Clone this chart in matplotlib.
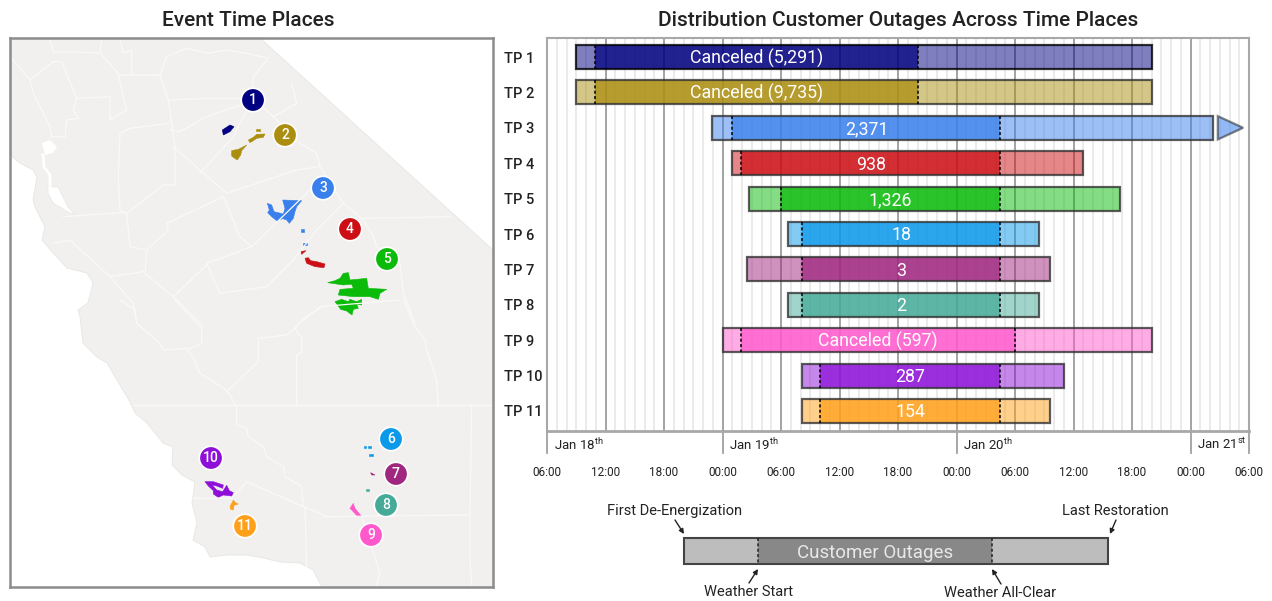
import matplotlib
matplotlib.use("Agg")
import matplotlib.pyplot as plt
from matplotlib.patches import Polygon

plt.rcParams['font.family'] = ['Roboto', 'DejaVu Sans']
plt.rcParams['mathtext.fontset'] = 'custom'
plt.rcParams['mathtext.rm'] = 'Roboto'

W, H = 1272, 601

# gantt data, hours after Jan 18th 00:00
tp_names = ['TP 1', 'TP 2', 'TP 3', 'TP 4', 'TP 5', 'TP 6', 'TP 7', 'TP 8', 'TP 9', 'TP 10', 'TP 11']
first_off = [9.0, 9.0, 22.9, 25.0, 26.7, 30.7, 26.5, 30.7, 24.0, 32.2, 32.2]
wx_start = [10.9, 10.9, 25.0, 25.9, 30.0, 32.2, 32.2, 32.2, 25.9, 34.0, 34.0]
wx_clear = [44.1, 44.0, 52.5, 52.5, 52.5, 52.5, 52.5, 52.5, 54.0, 52.5, 52.5]
last_rest = [68.0, 68.0, 74.3, 61.0, 64.8, 56.5, 57.6, 56.5, 68.0, 59.0, 57.6]
outage_labels = ['Canceled (5,291)', 'Canceled (9,735)', '2,371', '938', '1,326', '18', '3', '2',
                 'Canceled (597)', '287', '154']
tp_colors = ['#000080', '#ab8e10', '#3a80ec', '#cc0f14', '#0abb0a', '#0b99ea', '#a0267f', '#45ab98',
             '#ff58cc', '#8e10d8', '#ffa01a']

day_hours = [6, 24, 48, 72, 78]
day_labels = ['Jan 18$^{\\mathrm{th}}$', 'Jan 19$^{\\mathrm{th}}$', 'Jan 20$^{\\mathrm{th}}$', 'Jan 21$^{\\mathrm{st}}$']
hour_ticks = list(range(6, 79, 6))
hour_labels = ['06:00', '12:00', '18:00', '00:00', '06:00', '12:00', '18:00', '00:00', '06:00', '12:00',
               '18:00', '00:00', '06:00']
arrow_base, arrow_tip = 74.8, 77.4

# map data, traced in image pixels
land = [(10, 38), (260, 38), (493, 250), (493, 587), (322, 587), (313, 570), (300, 563), (280, 562), (263, 558),
        (247, 555), (227, 555), (210, 557), (205, 547), (193, 540), (197, 523), (192, 503), (195, 482), (182, 475),
        (172, 465), (173, 447), (163, 443), (147, 423), (135, 413), (130, 402), (117, 380), (107, 363), (97, 357),
        (83, 343), (80, 317), (78, 310), (88, 303), (93, 283), (87, 273), (67, 268), (53, 253), (42, 240), (45, 227),
        (35, 207), (33, 200), (37, 177), (33, 170), (20, 163), (10, 155)]
bay_upper = [(42, 143), (50, 140), (57, 147), (53, 153), (45, 155)]
bay_lower = [(48, 187), (58, 187), (68, 207), (75, 215), (68, 212), (53, 203), (48, 193)]
bay_strait = [(43, 155), (44, 167), (50, 175), (50, 187)]

north_lines = [
    [(150, 30), (160, 65), (300, 68), (305, 30)],
    [(30, 80), (90, 150), (160, 95), (185, 95), (230, 205), (220, 240), (235, 265), (200, 270), (195, 320), (155, 320)],
    [(90, 150), (100, 190), (150, 290), (155, 320)],
    [(230, 205), (330, 200), (330, 270), (380, 240), (355, 135)],
    [(300, 68), (350, 125), (355, 135), (480, 135), (500, 80), (560, 55), (625, 70), (680, 60), (740, 70), (805, 85),
     (760, 140), (755, 200), (820, 260), (890, 220), (875, 160)],
    [(360, 30), (370, 70), (395, 60), (395, 130)],
    [(820, 260), (900, 340), (950, 370), (960, 410), (1030, 520), (1090, 570), (1120, 620), (1130, 650), (1200, 700),
     (1210, 790), (1245, 880)],
    [(480, 135), (505, 210), (525, 350), (525, 465), (490, 465), (380, 550), (360, 540), (355, 440), (360, 310),
     (390, 295), (505, 280)],
    [(505, 210), (620, 205), (755, 205)],
    [(520, 350), (680, 490), (890, 420), (960, 410)],
    [(600, 430), (700, 320), (755, 210)],
    [(510, 300), (540, 305), (620, 260), (750, 215)],
    [(670, 500), (720, 620), (755, 650), (940, 470)],
    [(755, 650), (620, 700), (660, 790), (800, 770), (880, 690), (950, 600), (1030, 520)],
    [(670, 500), (500, 580), (505, 600), (440, 660), (435, 730), (520, 800), (620, 705)],
    [(380, 550), (390, 650), (440, 660)],
    [(190, 560), (370, 548)],
    [(160, 640), (210, 630), (330, 740), (430, 725)],
    [(330, 740), (400, 820), (410, 880)],
    [(1090, 565), (1350, 560)],
    [(520, 800), (610, 890)],
    [(885, 890), (960, 830), (1200, 810)],
]
south_lines = [
    [(360, 0), (405, 30), (410, 70), (480, 130), (490, 150), (560, 145), (580, 175), (600, 220), (680, 270), (710, 320)],
    [(525, 0), (605, 85), (605, 130), (560, 150)],
    [(960, 25), (910, 55), (885, 85), (860, 105), (775, 115), (775, 185), (680, 275)],
    [(885, 85), (905, 115), (905, 155), (890, 165), (890, 320)],
    [(1210, 0), (1245, 80), (1275, 120), (1280, 150), (1310, 240), (1315, 320)],
    [(400, 315), (1475, 315)],
    [(710, 320), (710, 375), (740, 385), (745, 410), (790, 440), (800, 470), (850, 500), (855, 530), (905, 560), (910, 620),
     (740, 545), (695, 595), (580, 595)],
    [(910, 620), (960, 640), (975, 650), (1410, 645), (1415, 320)],
    [(1410, 645), (1410, 780), (1415, 855)],
    [(915, 620), (920, 800)],
    [(1085, 650), (1140, 820), (1130, 855)],
]

# outage areas by time place: (index, outline)
north_areas = [
    (0, [(667, 300), (690, 285), (702, 290), (690, 305), (670, 315)]),
    (1, [(695, 362), (715, 358), (740, 345), (725, 362), (722, 375), (712, 390), (700, 382), (695, 378)]),
    (1, [(745, 330), (760, 322), (770, 313), (795, 312), (790, 322), (770, 325), (760, 332), (750, 338)]),
    (1, [(768, 298), (780, 298), (780, 303), (768, 303)]),
    (2, [(848, 510), (905, 512), (890, 530), (885, 545), (880, 565), (868, 580), (860, 570), (848, 566), (830, 572),
         (815, 560), (803, 548), (808, 540), (802, 520), (815, 525), (822, 545), (850, 552), (855, 535)]),
    (2, [(903, 598), (911, 598), (911, 606), (903, 606)]),
    (2, [(910, 638), (922, 638), (922, 645), (910, 645)]),
    (3, [(915, 685), (925, 683), (932, 692), (950, 695), (975, 702), (972, 713), (945, 710), (920, 700)]),
    (3, [(903, 665), (918, 662), (905, 673)]),
    (4, [(983, 758), (1005, 752), (1020, 745), (1030, 730), (1045, 728), (1050, 750), (1060, 762), (1030, 765)]),
    (4, [(1050, 750), (1100, 745), (1105, 775), (1160, 778), (1140, 790), (1135, 808), (1110, 800), (1060, 800),
         (1015, 795), (1020, 778), (1060, 775)]),
    (4, [(1005, 815), (1025, 808), (1045, 815), (1050, 808), (1070, 815), (1085, 808), (1085, 825), (1070, 822),
         (1075, 835), (1060, 838), (1056, 855), (1040, 843), (1022, 838)]),
]
south_areas = [
    (5, [(1093, 438), (1099, 438), (1099, 443), (1093, 443)]),
    (5, [(1104, 437), (1112, 437), (1112, 443), (1104, 443)]),
    (5, [(1108, 461), (1118, 461), (1118, 468), (1108, 468)]),
    (6, [(1112, 518), (1125, 525), (1115, 525)]),
    (7, [(1098, 566), (1108, 566), (1108, 574), (1098, 574)]),
    (8, [(1050, 625), (1060, 610), (1065, 625), (1085, 650), (1072, 648), (1055, 630)]),
    (9, [(615, 545), (640, 545), (670, 555), (668, 565), (650, 558), (636, 555), (650, 570), (668, 575), (680, 556),
         (688, 572), (700, 578), (695, 588), (670, 585), (655, 592), (640, 582), (640, 572), (625, 558)]),
    (10, [(690, 620), (700, 600), (706, 608), (715, 612), (702, 616), (700, 630), (692, 628)]),
]
badge_x = [253, 285, 323, 350, 387, 391, 396, 386, 371, 211, 245]
badge_y = [100, 135, 188, 229, 259, 439, 474, 505, 535, 458, 526]

# key below the chart, in image pixels
key_x = [684, 758, 992, 1108]
key_top, key_bottom = 538, 564
key_notes = ['First De-Energization', 'Last Restoration', 'Weather Start', 'Weather All-Clear']
note_text_xy = [(675, 511), (1115, 511), (748, 592), (1000, 593)]
note_from = [(675, 520), (1116, 520), (749, 583), (1001, 584)]
note_to = [(684, 534), (1110, 534), (758, 569), (992, 569)]


def north(pts):
    return [(x / 3, y / 3 + 30) for x, y in pts]


def south(pts):
    return [(x / 3, y / 3 + 300) for x, y in pts]


fig = plt.figure(figsize=(W / 100, H / 100), dpi=100)

# ---------- map
m = fig.add_axes([10 / W, 1 - 587 / H, 483 / W, 549 / H])
m.set_xlim(10, 493)
m.set_ylim(587, 38)
m.set_xticks([])
m.set_yticks([])
for s in m.spines.values():
    s.set_color('#8c8c8c')
    s.set_linewidth(1.8)

m.add_patch(Polygon(land, closed=True, fc='#f1f0ee', ec='#e6e6e4', lw=0.6))
m.add_patch(Polygon(bay_upper, closed=True, fc='white', ec='none'))
m.add_patch(Polygon(bay_lower, closed=True, fc='white', ec='#e6e6e4', lw=0.5))
m.plot(*zip(*bay_strait), color='white', lw=2)
for line in north_lines:
    m.plot(*zip(*north(line)), color='#f9f9f8', lw=0.9)
for line in south_lines:
    m.plot(*zip(*south(line)), color='#f9f9f8', lw=0.9)
for i, pts in north_areas:
    m.add_patch(Polygon(north(pts), closed=True, fc=tp_colors[i], ec=tp_colors[i], lw=0.4))
for i, pts in south_areas:
    m.add_patch(Polygon(south(pts), closed=True, fc=tp_colors[i], ec=tp_colors[i], lw=0.4))
m.scatter(badge_x, badge_y, s=285, c=tp_colors, edgecolors='white', linewidths=1.2, zorder=5)
for i in range(len(badge_x)):
    m.text(badge_x[i], badge_y[i], str(i + 1), color='white', ha='center', va='center', fontsize=10,
           fontweight='medium', zorder=6)

# ---------- gantt
ax = fig.add_axes([547 / W, 1 - 431 / H, 702 / W, 393 / H])
ax.set_xlim(day_hours[0], day_hours[-1])
ax.set_ylim(10.565, -0.537)
ax.set_axisbelow(True)
ax.set_xticks(hour_ticks)
ax.set_xticklabels(hour_labels)
ax.set_xticks(range(6, 79), minor=True)
ax.grid(which='minor', axis='x', color='#e6e6e6', lw=1.1)
ax.grid(which='major', axis='x', color='#8a8a8a', lw=1.1)
ax.tick_params(axis='x', which='both', length=0)
ax.tick_params(axis='x', which='major', labelsize=8.5, pad=25, labelcolor='#222222')
ax.set_yticks(range(len(tp_names)))
ax.set_yticklabels(tp_names, ha='left', fontsize=10.5, color='#222222', fontweight='medium')
ax.tick_params(axis='y', length=0, pad=31)
for s in ax.spines.values():
    s.set_color('#a8a8a8')
    s.set_linewidth(1.5)
ax.spines['bottom'].set_linewidth(2)

for i in range(len(tp_names)):
    c = tp_colors[i]
    edge = 'black' if i == 0 else '#333333'
    ax.barh(i, wx_start[i] - first_off[i], left=first_off[i], height=0.68, color=c, alpha=0.5, lw=0, zorder=3)
    ax.barh(i, wx_clear[i] - wx_start[i], left=wx_start[i], height=0.68, color=c, alpha=0.87, lw=0, zorder=3)
    ax.barh(i, last_rest[i] - wx_clear[i], left=wx_clear[i], height=0.68, color=c, alpha=0.5, lw=0, zorder=3)
    ax.barh(i, last_rest[i] - first_off[i], left=first_off[i], height=0.68, fill=False, edgecolor=edge, lw=1.6,
            alpha=0.8, zorder=4)
    ax.vlines([wx_start[i], wx_clear[i]], i - 0.34, i + 0.34, colors='black', linestyles=(0, (2, 1.5)), lw=1.1, zorder=4)
    ax.text((wx_start[i] + wx_clear[i]) / 2, i + 0.04, outage_labels[i], color='white', ha='center', va='center',
            fontsize=12.8, zorder=5)

ax.add_patch(Polygon([(arrow_base, 2 - 0.33), (arrow_tip, 2), (arrow_base, 2 + 0.33)], closed=True, fc=tp_colors[2],
                     alpha=0.55, ec='#222222', lw=1.6, zorder=4))

for d in day_hours:
    ax.plot([d, d], [0, -0.056], transform=ax.get_xaxis_transform(), color='#a0a0a0', lw=1.3, clip_on=False)
for d, lab in zip(day_hours, day_labels):
    ax.annotate(lab, xy=(d, 0), xycoords=ax.get_xaxis_transform(), xytext=(5, -10), textcoords='offset points',
                ha='left', va='center', fontsize=9.5, color='#222222')

# ---------- titles
fig.text(248 / W, 1 - 21 / H, 'Event Time Places', ha='center', va='center', fontsize=15, color='#222222',
         fontweight='medium')
fig.text(898 / W, 1 - 21 / H, 'Distribution Customer Outages Across Time Places', ha='center', va='center',
         fontsize=15, color='#222222', fontweight='medium')

# ---------- key
k = fig.add_axes([0, 0, 1, 1], facecolor='none')
k.set_xlim(0, W)
k.set_ylim(H, 0)
k.axis('off')
key_h = key_bottom - key_top
k.barh(key_top + key_h / 2, key_x[1] - key_x[0], left=key_x[0], height=key_h, color='#bdbdbd', lw=0)
k.barh(key_top + key_h / 2, key_x[2] - key_x[1], left=key_x[1], height=key_h, color='#888888', lw=0)
k.barh(key_top + key_h / 2, key_x[3] - key_x[2], left=key_x[2], height=key_h, color='#bdbdbd', lw=0)
k.barh(key_top + key_h / 2, key_x[3] - key_x[0], left=key_x[0], height=key_h, fill=False, edgecolor='#444444', lw=1.5)
k.vlines(key_x[1:3], key_top, key_bottom, colors='#222222', linestyles=(0, (2, 1.5)), lw=1.1)
k.text((key_x[1] + key_x[2]) / 2, key_top + key_h / 2 + 1.5, 'Customer Outages', color='#e8e8e8', ha='center',
       va='center', fontsize=13.5)
for i in range(len(key_notes)):
    k.text(note_text_xy[i][0], note_text_xy[i][1], key_notes[i], ha='center', va='center', fontsize=10.5, color='#222222')
    k.annotate('', xy=note_to[i], xytext=note_from[i], arrowprops=dict(arrowstyle='-|>', color='#222222', lw=1,
                                                                       mutation_scale=7, shrinkA=0, shrinkB=0))

fig.savefig('out.png', dpi=100)
